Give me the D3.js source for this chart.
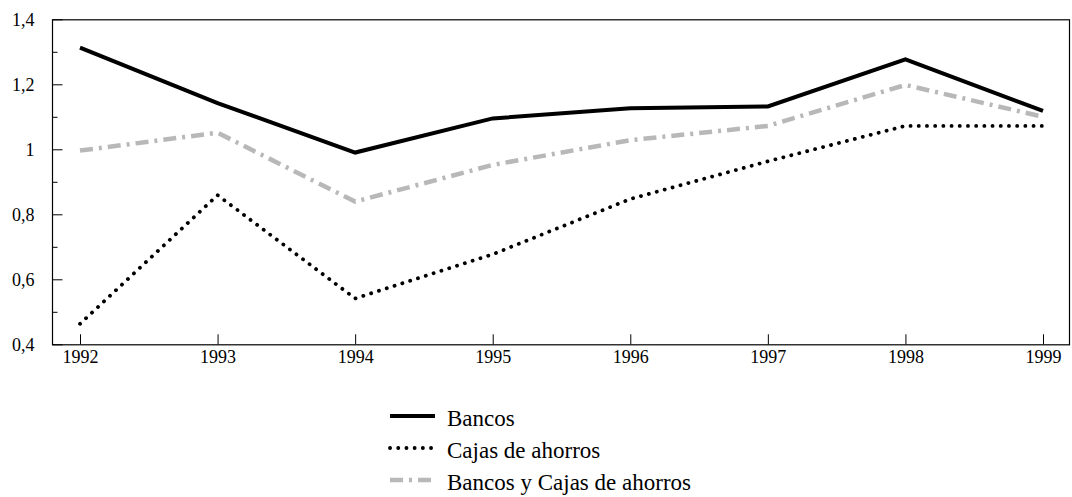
<!DOCTYPE html>
<html>
<head>
<meta charset="utf-8">
<script src="https://cdn.jsdelivr.net/npm/d3@7"></script>
<style>
  body { margin: 0; background: #fff; }
</style>
</head>
<body>
<div id="chart"></div>
<script>
(function(){
    // data
    var years   = [1992, 1993, 1994, 1995, 1996, 1997, 1998, 1999];
    var bancos  = [1.313, 1.142, 0.990, 1.095, 1.126, 1.132, 1.277, 1.118];
    var cajas   = [0.463, 0.859, 0.541, 0.677, 0.847, 0.963, 1.072, 1.072];
    var ambos   = [0.996, 1.051, 0.839, 0.952, 1.028, 1.072, 1.198, 1.100];
    var yTicks  = [0.4, 0.6, 0.8, 1, 1.2, 1.4];
    var yMinor  = [0.5, 0.7, 0.9, 1.1, 1.3];
    var seriesNames = ['Bancos', 'Cajas de ahorros', 'Bancos y Cajas de ahorros'];

    var FONT   = 'Liberation Serif';

    var WIDTH  = 1072,
        HEIGHT = 497,
        LEFT   = 52,
        RIGHT  = 1070,
        TOP    = 19.3,
        BOTTOM = 344.3;

    var svg = d3.select('#chart').append('svg')
        .attr('width', WIDTH)
        .attr('height', HEIGHT);

    var x = d3.scalePoint().domain(years).range([80, 1043]);
    var y = d3.scaleLinear().domain([0.4, 1.4]).range([BOTTOM, TOP]);

    // frame
    svg.append('rect')
        .attr('x', LEFT + 0.5).attr('y', TOP + 0.5)
        .attr('width', RIGHT - LEFT - 1).attr('height', BOTTOM - TOP)
        .attr('fill', 'none').attr('stroke', '#000').attr('stroke-width', 1.2);

    // y axis: labels + inward ticks
    var yAxis = svg.append('g').attr('transform', 'translate(' + (LEFT + 0.5) + ',0)')
        .call(d3.axisLeft(y).tickValues(yTicks).tickSize(-10).tickPadding(18)
            .tickFormat(function(d){ return d3.format('.1~f')(d).replace('.', ','); }));
    yAxis.attr('font-family', FONT).attr('font-size', 18);
    yAxis.select('.domain').remove();
    yAxis.selectAll('line').attr('stroke', '#000');
    yAxis.selectAll('text').attr('font-family', FONT).attr('font-size', 18).attr('fill', '#000');

    var yMin = svg.append('g').attr('transform', 'translate(' + (LEFT + 0.5) + ',0)')
        .call(d3.axisLeft(y).tickValues(yMinor).tickSize(-5).tickFormat(''));
    yMin.select('.domain').remove();
    yMin.selectAll('line').attr('stroke', '#000');

    // x axis: upward ticks
    var xAxis = svg.append('g').attr('transform', 'translate(0,' + BOTTOM + ')')
        .call(d3.axisBottom(x).tickSize(-10).tickPadding(6));
    xAxis.attr('font-family', FONT).attr('font-size', 18);
    xAxis.select('.domain').remove();
    xAxis.selectAll('line').attr('stroke', '#000');
    xAxis.selectAll('text').attr('font-family', FONT).attr('font-size', 18).attr('fill', '#000');

    var styles = [
        { stroke: '#000',    width: 4,   dash: null,          cap: 'butt' },
        { stroke: '#000',    width: 3.8, dash: '0.1,8.1',     cap: 'round' },
        { stroke: '#b8b8b8', width: 4.5, dash: '13,6,3,6',    cap: 'butt' }
    ];
    var allSeries = [bancos, cajas, ambos];

    var line = d3.line()
        .x(function(d, i){ return x(years[i]); })
        .y(function(d){ return y(d); });

    // draw grey first so black ones sit on top
    [2, 1, 0].forEach(function(k){
        svg.append('path')
            .datum(allSeries[k])
            .attr('d', line)
            .attr('fill', 'none')
            .attr('stroke', styles[k].stroke)
            .attr('stroke-width', styles[k].width)
            .attr('stroke-linecap', styles[k].cap)
            .attr('stroke-linejoin', 'miter')
            .attr('stroke-dasharray', styles[k].dash);
    });

    // legend
    var legend = svg.append('g');
    seriesNames.forEach(function(name, k){
        var cy = 416 + k * 32;
        legend.append('line')
            .attr('x1', 390).attr('x2', 435)
            .attr('y1', cy).attr('y2', cy)
            .attr('stroke', styles[k].stroke)
            .attr('stroke-width', styles[k].width)
            .attr('stroke-linecap', styles[k].cap)
            .attr('stroke-dasharray', styles[k].dash);
        legend.append('text')
            .attr('x', 447).attr('y', cy + 10)
            .attr('font-family', FONT)
            .attr('font-size', 23)
            .attr('fill', '#000')
            .text(name);
    });
})();
</script>
</body>
</html>
